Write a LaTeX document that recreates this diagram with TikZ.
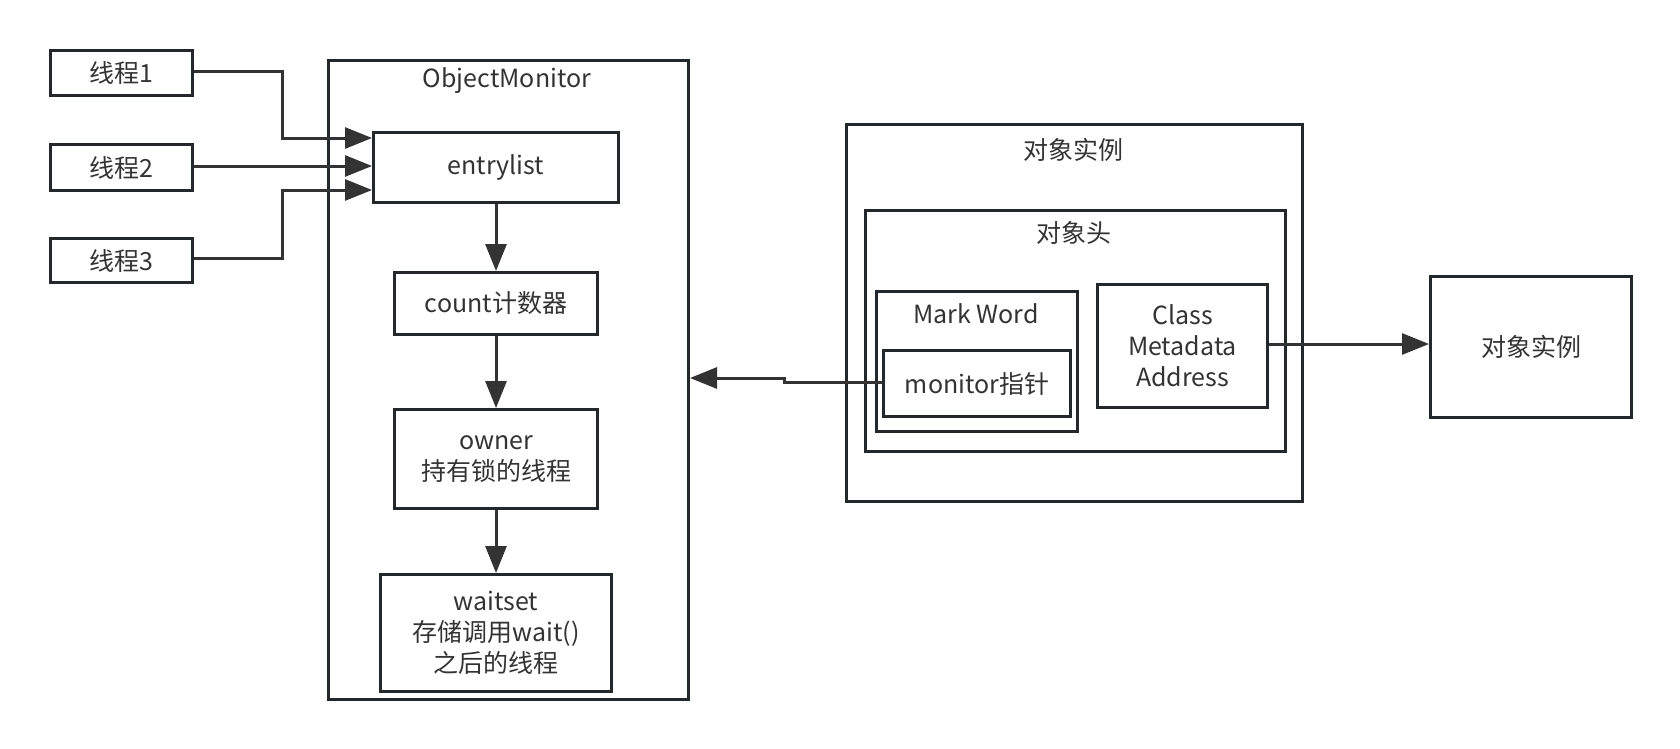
\documentclass[tikz,border=0pt]{standalone}
\usepackage{fontspec}
\setmainfont{Noto Sans CJK SC}
\usetikzlibrary{arrows.meta}
\definecolor{strk}{HTML}{23282D}
\definecolor{arr}{HTML}{333333}
\definecolor{txt}{HTML}{333333}
\tikzset{
  box/.style={draw=strk, line width=3pt, inner sep=0pt, anchor=north west},
  lbl/.style={text=txt, font=\fontsize{25}{31}\selectfont, align=center, inner sep=0pt},
  conn/.style={draw=arr, line width=3pt, -{Triangle[length=27pt,width=21pt]}}
}
\newcommand{\bx}[5]{\node[box, minimum width={#4-#2}, minimum height={#5-#3}] (#1) at (#2,#3) {};}
\begin{document}
\begin{tikzpicture}[x=1pt,y=-1pt]
\useasboundingbox (0,0) rectangle (1680,749);
% threads
\bx{t1}{49}{49}{191}{94}
\bx{t2}{49}{143}{191}{189}
\bx{t3}{49}{237}{191}{281}
\node[lbl] (t1l) at (t1.center) {线程1};
\node[lbl] (t2l) at (t2.center) {线程2};
\node[lbl] (t3l) at (t3.center) {线程3};
% ObjectMonitor
\bx{om}{327}{59}{687}{698}
\node[lbl] (omt) at (507,81) {ObjectMonitor};
\bx{entry}{372}{131}{617}{201}
\node[lbl] (entryl) at (entry.center) {entrylist};
\bx{count}{393}{271}{596}{333}
\node[lbl] (countl) at (count.center) {count计数器};
\bx{owner}{393}{408}{596}{507}
\node[lbl] (ownerl) at (owner.center) {owner\\持有锁的线程};
\bx{wait}{379}{573}{610}{690}
\node[lbl] (waitl) at (wait.center) {waitset\\存储调用wait()\\之后的线程};
% object instance
\bx{obj}{845}{123}{1301}{500}
\node[lbl] (objt) at (1073,150) {对象实例};
\bx{head}{864}{209}{1284}{450}
\node[lbl] (headt) at (1074,233) {对象头};
\bx{mark}{875}{290}{1076}{430}
\node[lbl] (markt) at (976,314) {Mark Word};
\bx{mon}{882}{349}{1069}{415}
\node[lbl] (monl) at (mon.center) {monitor指针};
\bx{cls}{1096}{283}{1266}{406}
\node[lbl] (clsl) at (cls.center) {Class\\Metadata\\Address};
\bx{inst}{1429}{275}{1630}{416}
\node[lbl] (instl) at (inst.center) {对象实例};
% connectors
\coordinate (e1) at (372,138);
\coordinate (e2) at (372,166);
\coordinate (e3) at (372,190);
\draw[conn] (t1.east |- 0,72) -- (282,72) -- (282,138) -- (e1);
\draw[conn] (t2.east |- 0,166) -- (e2);
\draw[conn] (t3.east |- 0,258) -- (282,258) -- (282,190) -- (e3);
\draw[conn] (entry.south) -- (count.north);
\draw[conn] (count.south) -- (owner.north);
\draw[conn] (owner.south) -- (wait.north);
\draw[conn] (cls.east |- 0,344) -- (inst.west |- 0,344);
\draw[conn] (mon.west |- 0,382) -- (784,382) -- (784,378) -- (om.east |- 0,378);
\end{tikzpicture}
\end{document}
